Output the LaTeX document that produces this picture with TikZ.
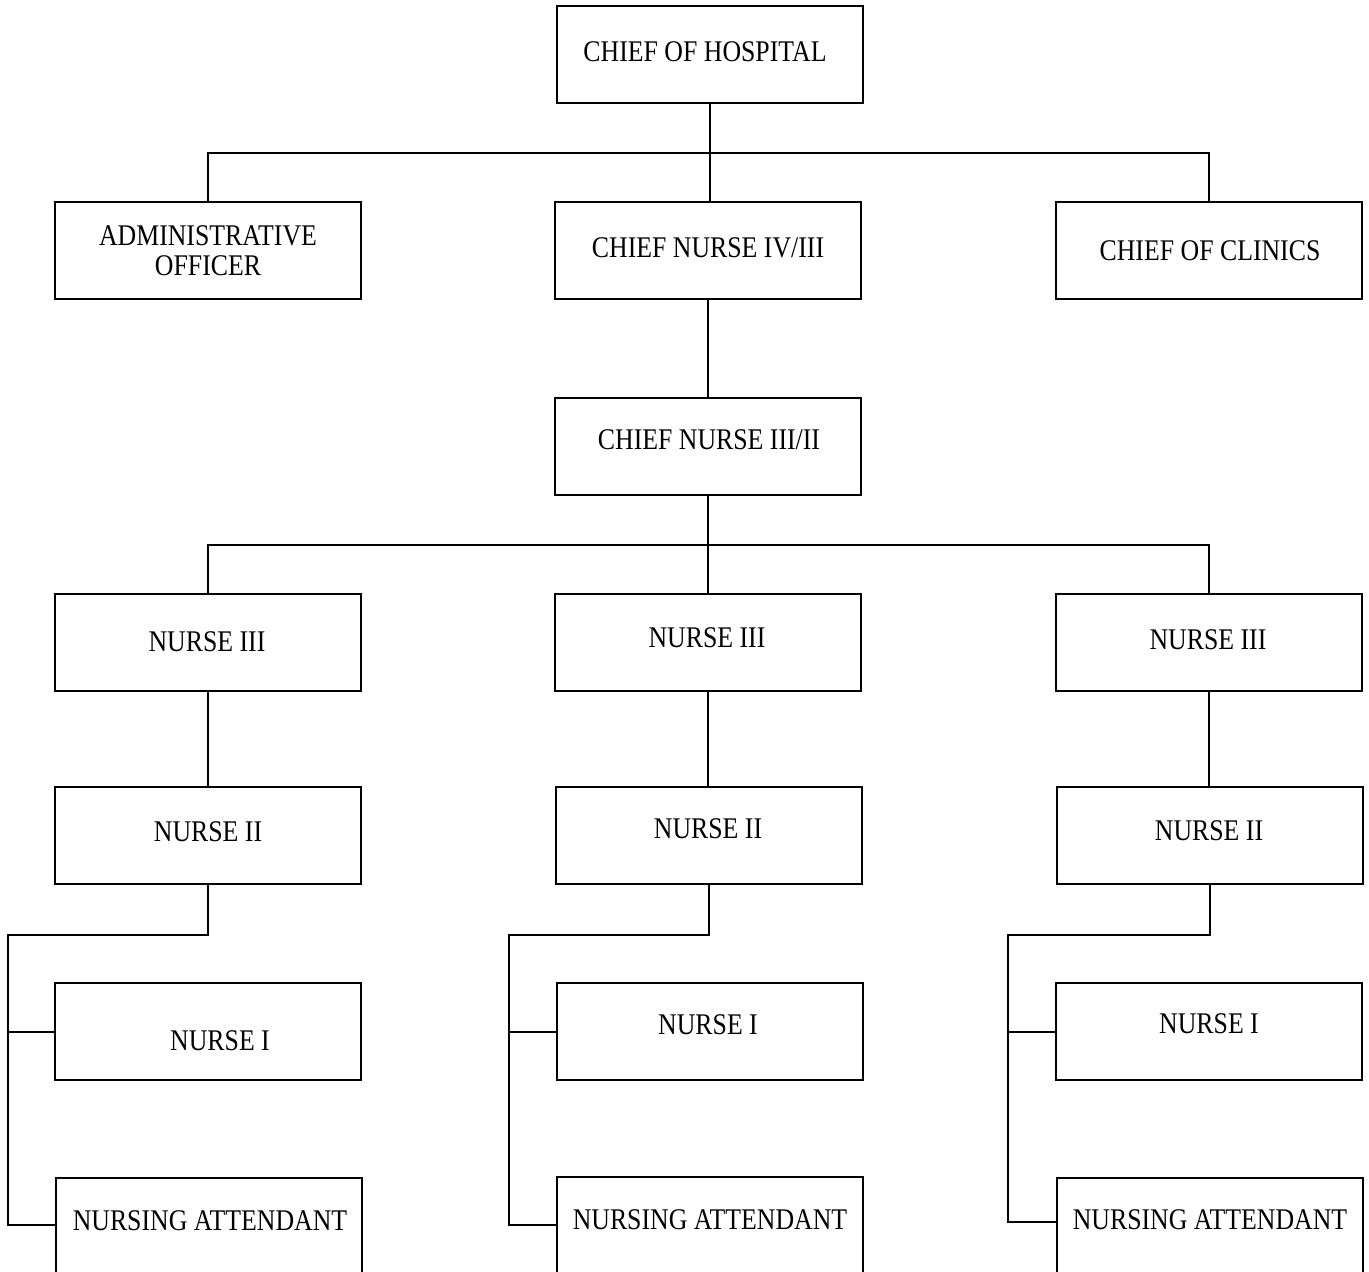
\documentclass[tikz,border=0pt]{standalone}
\usepackage{fontspec}
\setmainfont{Liberation Serif}[FakeStretch=0.86]
\begin{document}
\begin{tikzpicture}[x=0.5pt,y=-0.5pt,line width=1pt,
  box/.style={draw,line width=1pt,inner sep=0pt,minimum width=153pt,minimum height=48.5pt},
  tall/.style={box,minimum height=56pt},
  lbl/.style={font=\fontsize{15}{15}\selectfont,inner sep=0pt,align=center},
  conn/.style={line width=1pt}]
\useasboundingbox (0,0) rectangle (1369,1272);
\clip (0,0) rectangle (1369,1272);
% boxes
\node[box] (hosp) at (709.5,55) {};
\node[box] (admin) at (208,250.5) {};
\node[box] (cn4) at (707.5,250.5) {};
\node[box] (clin) at (1208.5,251) {};
\node[box] (cn3) at (708,446.5) {};
\node[box] (n3a) at (208,642.5) {};
\node[box] (n3b) at (707.5,642.5) {};
\node[box] (n3c) at (1208.5,642.5) {};
\node[box] (n2a) at (208,835.5) {};
\node[box] (n2b) at (709,835.5) {};
\node[box] (n2c) at (1209.5,835.5) {};
\node[box] (n1a) at (208,1031.5) {};
\node[box] (n1b) at (709.5,1031.5) {};
\node[box] (n1c) at (1209,1031.5) {};
\node[tall] (naa) at (209,1234) {};
\node[tall] (nab) at (709.5,1233) {};
\node[tall] (nac) at (1209.5,1234) {};
% labels
\node[lbl] (thosp) at (705,52) {CHIEF OF HOSPITAL};
\node[lbl] (tadmin) at (208,251) {ADMINISTRATIVE\\OFFICER};
\node[lbl] (tcn4) at (708,248) {CHIEF NURSE IV/III};
\node[lbl] (tclin) at (1210,251) {CHIEF OF CLINICS};
\node[lbl] (tcn3) at (709,440) {CHIEF NURSE III/II};
\node[lbl] (tn3a) at (207,642) {NURSE III};
\node[lbl] (tn3b) at (707,638) {NURSE III};
\node[lbl] (tn3c) at (1208,640) {NURSE III};
\node[lbl] (tn2a) at (208,832) {NURSE II};
\node[lbl] (tn2b) at (708,829) {NURSE II};
\node[lbl] (tn2c) at (1209,831) {NURSE II};
\node[lbl] (tn1a) at (220,1041) {NURSE I};
\node[lbl] (tn1b) at (708,1025) {NURSE I};
\node[lbl] (tn1c) at (1209,1024) {NURSE I};
\node[lbl] (tnaa) at (210,1221) {NURSING ATTENDANT};
\node[lbl] (tnab) at (710,1220) {NURSING ATTENDANT};
\node[lbl] (tnac) at (1210,1220) {NURSING ATTENDANT};
% connectors
\coordinate (bus1) at (710.5,153);
\coordinate (bus2) at (710.5,545);
\draw[conn] (hosp.south) -- (hosp.south |- cn4.north);
\draw[conn] (admin.north) |- (bus1) -| (clin.north);
\draw[conn] (cn4.south) -- (cn4.south |- cn3.north);
\draw[conn] (cn3.south) -- (cn3.south |- n3b.north);
\draw[conn] (n3a.north) |- (bus2) -| (n3c.north);
\draw[conn] (n3a) -- (n2a);
\draw[conn] (n3b) -- (n3b |- n2b.north);
\draw[conn] (n3c) -- (n3c |- n2c.north);
% left group
\coordinate (ja) at (8,935);
\coordinate (ka) at (8,1225);
\draw[conn] (n2a.south) |- (ja) -- (ka) -- (ka -| naa.west);
\draw[conn] (ja |- n1a.west) -- (n1a.west);
% middle group
\coordinate (jb) at (509,935);
\coordinate (kb) at (509,1225);
\draw[conn] (n2b.south) |- (jb) -- (kb) -- (kb -| nab.west);
\draw[conn] (jb |- n1b.west) -- (n1b.west);
% right group
\coordinate (jc) at (1008,935);
\coordinate (kc) at (1008,1222);
\draw[conn] (n2c.south) |- (jc) -- (kc) -- (kc -| nac.west);
\draw[conn] (jc |- n1c.west) -- (n1c.west);
\end{tikzpicture}
\end{document}
